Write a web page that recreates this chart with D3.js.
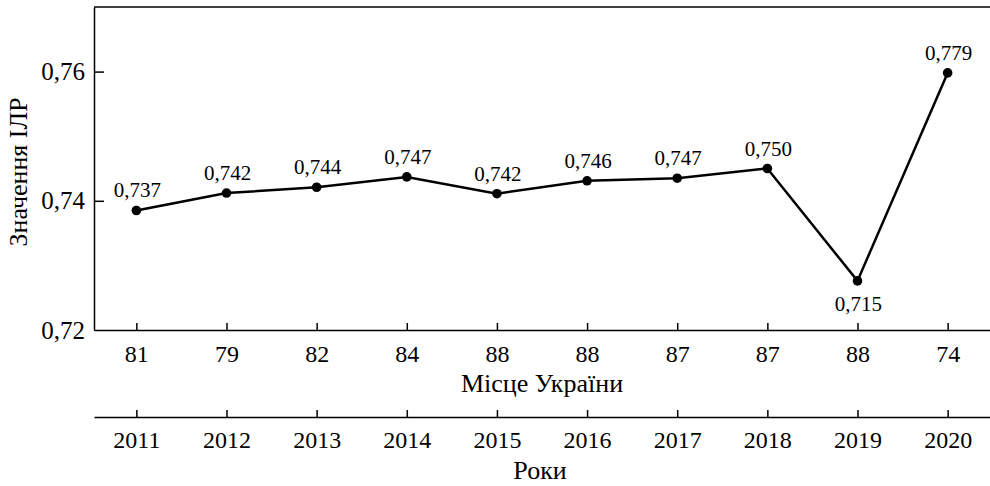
<!DOCTYPE html>
<html>
<head>
<meta charset="utf-8">
<script src="https://cdn.jsdelivr.net/npm/d3@7"></script>
<style>
  body { margin: 0; background: #fff; }
  svg { display: block; font-family: "Liberation Serif", "DejaVu Serif", serif; }
</style>
</head>
<body>
<figure id="line" style="margin:0"></figure>
<script>
const years = ["2011", "2012", "2013", "2014", "2015", "2016", "2017", "2018", "2019", "2020"];
const places = ["81", "79", "82", "84", "88", "88", "87", "87", "88", "74"];
// plotted positions
const plotted = [0.7385, 0.7412, 0.7421, 0.7437, 0.7411, 0.7431, 0.7435, 0.7450, 0.7276, 0.7598];
// printed labels
const labels = [0.737, 0.742, 0.744, 0.747, 0.742, 0.746, 0.747, 0.750, 0.715, 0.779];
const yTicks = [0.72, 0.74, 0.76];

const width = 990;
const height = 486;
const margin = { top: 7, right: 0, bottom: 156, left: 94 };
const innerH = height - margin.top - margin.bottom;
const serif = "'Liberation Serif', 'DejaVu Serif', serif";

const locale = d3.formatLocale({ decimal: ",", thousands: " ", grouping: [3], currency: ["", ""] });
const fmt2 = locale.format(".2f");
const fmt3 = locale.format(".3f");

const svg = d3.select("figure#line")
  .append("svg")
  .attr("width", width)
  .attr("height", height);

const x = d3.scalePoint()
  .domain(years)
  .range([margin.left, width - margin.right])
  .padding(0.47);

const y = d3.scaleLinear()
  .domain([0.72, 0.77])
  .range([margin.top + innerH, margin.top]);

// top frame line
svg.append("line")
  .attr("x1", margin.left)
  .attr("x2", width)
  .attr("y1", y(0.77))
  .attr("y2", y(0.77))
  .attr("stroke", "#000")
  .attr("stroke-width", 1.5);

const yAxis = svg.append("g")
  .attr("transform", "translate(" + margin.left + ",0)")
  .call(d3.axisLeft(y).tickValues(yTicks).tickFormat(fmt2).tickSizeInner(-10).tickSizeOuter(0).tickPadding(9))
  .attr("font-family", serif);
yAxis.selectAll("text").style("font-size", "25px").attr("fill", "#000");
yAxis.selectAll("path, line").attr("stroke", "#000").attr("stroke-width", 1.5);
yAxis.selectAll(".tick").filter(d => d === 0.72).select("line").remove();

// place axis
const placeAxis = svg.append("g")
  .attr("transform", "translate(0," + y(0.72) + ")")
  .call(d3.axisBottom(x).tickFormat((d, i) => places[i]).tickSizeInner(-7).tickSizeOuter(0).tickPadding(15))
  .attr("font-family", serif);
placeAxis.selectAll("text").style("font-size", "24px").attr("fill", "#000");
placeAxis.selectAll("path, line").attr("stroke", "#000").attr("stroke-width", 1.5);

// year axis
const yearY = 417;
const yearAxis = svg.append("g")
  .attr("transform", "translate(0," + yearY + ")")
  .call(d3.axisBottom(x).tickSizeInner(-7).tickSizeOuter(0).tickPadding(14))
  .attr("font-family", serif);
yearAxis.selectAll("text").style("font-size", "24px").attr("fill", "#000");
yearAxis.selectAll("path, line").attr("stroke", "#000").attr("stroke-width", 1.5);

svg.append("text")
  .attr("x", 542)
  .attr("y", 392)
  .attr("text-anchor", "middle")
  .style("font-size", "26px")
  .text("Місце України");

svg.append("text")
  .attr("x", 540)
  .attr("y", 479)
  .attr("text-anchor", "middle")
  .style("font-size", "26px")
  .text("Роки");

svg.append("text")
  .attr("transform", "translate(27,172) rotate(-90)")
  .attr("text-anchor", "middle")
  .style("font-size", "26px")
  .text("Значення ІЛР");

const line = d3.line()
  .x((d, i) => x(years[i]))
  .y(d => y(d));

svg.append("path")
  .datum(plotted)
  .attr("d", line)
  .style("fill", "none")
  .style("stroke", "#000")
  .style("stroke-width", "2.5px");

svg.append("g")
  .selectAll("circle")
  .data(plotted)
  .enter()
  .append("circle")
  .attr("cx", (d, i) => x(years[i]))
  .attr("cy", d => y(d))
  .attr("r", 4.8)
  .style("fill", "#000");

svg.append("g")
  .selectAll("text")
  .data(labels)
  .enter()
  .append("text")
  .attr("x", (d, i) => x(years[i]) + 1)
  .attr("y", (d, i) => i === 8 ? y(plotted[i]) + 30 : y(plotted[i]) - 13)
  .attr("text-anchor", "middle")
  .style("font-size", "21px")
  .text(d => fmt3(d));
</script>
</body>
</html>
